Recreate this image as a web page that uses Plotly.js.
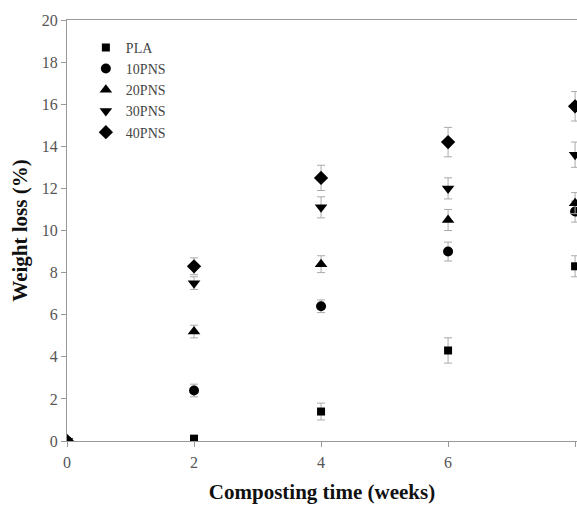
<!DOCTYPE html>
<html>
<head>
<meta charset="utf-8">
<script src="https://cdn.plot.ly/plotly-3.0.1.min.js"></script>
<style>html,body{margin:0;padding:0;background:#fff;}#chart{width:577px;height:508px;}</style>
</head>
<body>
<div id="chart"></div>
<script>
const weeks = [0, 2, 4, 6, 8];
const seriesNames = ["PLA", "10PNS", "20PNS", "30PNS", "40PNS"];
const PLA = [0, 0.1, 1.4, 4.3, 8.3];
const PNS10 = [0, 2.4, 6.4, 9.0, 10.9];
const PNS20 = [0, 5.2, 8.4, 10.5, 11.3];
const PNS30 = [0, 7.5, 11.1, 12.0, 13.6];
const PNS40 = [0, 8.3, 12.5, 14.2, 15.9];
const errPLA = [0, 0.2, 0.4, 0.6, 0.5];
const err10 = [0, 0.3, 0.3, 0.45, 0.5];
const err20 = [0, 0.3, 0.4, 0.5, 0.5];
const err30 = [0, 0.3, 0.5, 0.5, 0.6];
const err40 = [0, 0.4, 0.6, 0.7, 0.7];
const yTicks = [0, 2, 4, 6, 8, 10, 12, 14, 16, 18, 20];
const xTicks = [0, 2, 4, 6, 8];

const values = [PLA, PNS10, PNS20, PNS30, PNS40];
const errors = [errPLA, err10, err20, err30, err40];
const symbols = ["square", "circle", "triangle-up", "triangle-down", "diamond"];
const sizes = [8, 10, 11, 11, 11];

const serif = "Liberation Serif";

const traces = values.map((v, i) => ({
  type: "scatter",
  mode: "markers",
  name: seriesNames[i],
  x: weeks,
  y: v,
  marker: {symbol: symbols[i], size: sizes[i], color: "#000"},
  error_y: {type: "data", array: errors[i], visible: true, color: "#aaa", thickness: 1, width: 4}
}));

const layout = {
  width: 577, height: 508,
  margin: {l: 67, r: 0, t: 20, b: 67},
  paper_bgcolor: "#fff", plot_bgcolor: "#fff",
  font: {family: serif, color: "#444"},
  showlegend: true,
  legend: {
    x: 0.037, y: 0.972, xanchor: "left", yanchor: "top",
    font: {size: 14, color: "#444", family: serif},
    bgcolor: "rgba(0,0,0,0)", itemwidth: 30
  },
  xaxis: {
    range: [0, 8.03], tickvals: xTicks, ticktext: xTicks.map(String),
    showgrid: false, zeroline: false, showline: true, linecolor: "#999", linewidth: 1,
    mirror: true, ticks: "outside", ticklen: 5, tickcolor: "#999",
    tickfont: {size: 16, color: "#555", family: serif},
    ticklabelstandoff: 2,
    title: {text: "Composting time (weeks)", font: {size: 21, color: "#111", family: serif, weight: "bold"}, standoff: 14}
  },
  yaxis: {
    range: [0, 20], tickvals: yTicks, ticktext: yTicks.map(String),
    showgrid: false, zeroline: false, showline: true, linecolor: "#999", linewidth: 1,
    mirror: true, ticks: "outside", ticklen: 5, tickcolor: "#999",
    tickfont: {size: 16, color: "#555", family: serif},
    title: {text: "Weight loss (%)", font: {size: 21, color: "#111", family: serif, weight: "bold"}, standoff: 8}
  }
};

Plotly.newPlot("chart", traces, layout, {staticPlot: true, displayModeBar: false});
</script>
</body>
</html>
